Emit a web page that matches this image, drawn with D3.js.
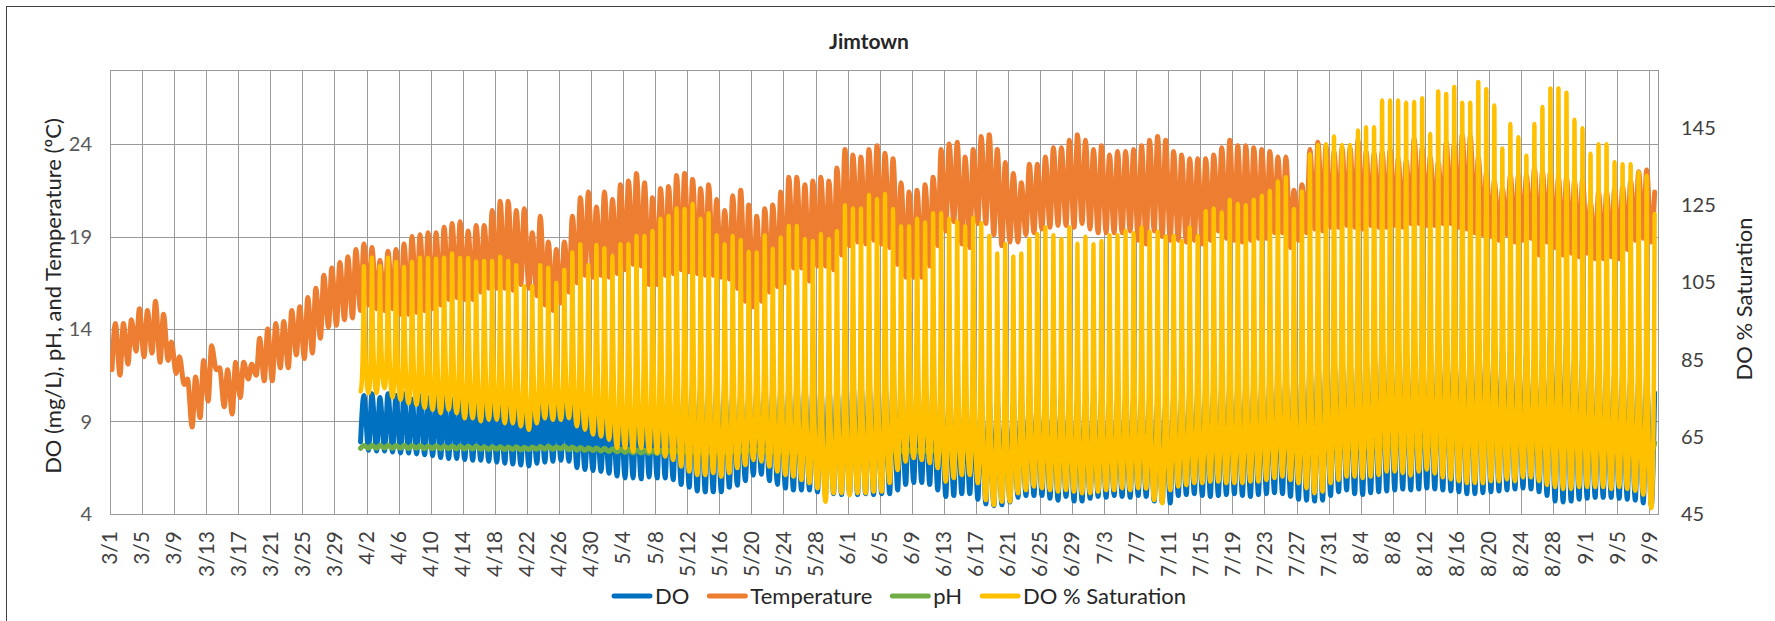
<!DOCTYPE html>
<html>
<head>
<meta charset="utf-8">
<script src="https://cdn.jsdelivr.net/npm/d3@7"></script>
<style>
  body { margin: 0; background: #fff; }
  svg text { font-family: Lato, "Open Sans", sans-serif; }
</style>
</head>
<body>
<div id="chart"></div>
<script>
// day 0 = 3/1, sondes went in on 4/1 (day 31)
var firstDay = Date.UTC(2019, 2, 1);
var lastDay = Date.UTC(2019, 8, 10, 2);
var sondeStart = 31;

// daily low / high, one entry per day from 3/1
var tempLow = [11.8, 11.5, 12.1, 12.8, 12.5, 12.7, 12.2, 12.3, 11.6, 11.0,
  8.7, 9.2, 10.1, 11.8, 9.8, 9.4, 10.3, 11.3, 11.5, 11.2,
  11.2, 11.9, 11.9, 12.6, 12.4, 12.7, 13.5, 14.1, 14.2, 14.5,
  14.6, 15.0, 15.3, 15.1, 15.0, 15.1, 14.8, 14.8, 14.9, 15.0,
  15.1, 15.3, 15.6, 15.7, 15.6, 15.6, 16.0, 16.2, 16.2, 16.2,
  16.1, 16.4, 16.2, 15.8, 15.3, 15.0, 15.4, 16.0, 16.5, 16.9,
  16.8, 16.9, 16.8, 17.0, 17.2, 17.5, 17.4, 16.4, 16.4, 16.9,
  17.0, 17.2, 17.1, 17.0, 16.9, 16.9, 16.8, 16.7, 16.2, 15.5,
  15.2, 15.5, 16.0, 16.3, 16.5, 17.3, 17.3, 16.6, 17.4, 17.4,
  17.2, 18.0, 18.5, 18.7, 18.6, 18.8, 18.6, 18.4, 17.5, 16.8,
  16.8, 16.8, 17.4, 18.5, 19.3, 19.8, 18.6, 18.4, 19.7, 19.7,
  19.1, 18.5, 18.7, 18.7, 19.1, 19.2, 19.4, 19.5, 19.6, 19.6,
  19.5, 19.7, 19.4, 19.2, 19.2, 19.2, 19.2, 19.3, 18.8, 18.6,
  19.3, 19.0, 18.8, 18.8, 18.7, 18.8, 18.6, 18.8, 19.3, 18.9,
  18.8, 18.7, 18.8, 18.9, 18.9, 19.2, 19.2, 18.4, 18.8, 19.2,
  19.4, 19.3, 19.5, 19.5, 19.6, 19.5, 19.4, 19.6, 19.5, 19.5,
  19.6, 19.5, 19.7, 19.7, 19.6, 19.6, 19.7, 19.7, 19.5, 19.4,
  19.2, 19.1, 19.0, 18.8, 19.1, 18.7, 18.8, 18.9, 18.0, 18.7,
  18.4, 18.0, 18.1, 17.9, 18.1, 17.8, 17.8, 17.9, 17.8, 18.3,
  18.8, 18.9, 18.7];
var tempHigh = [14.3, 14.3, 14.5, 15.1, 15.0, 15.5, 14.8, 13.3, 12.5, 11.3,
  11.4, 12.3, 13.1, 11.9, 11.8, 12.2, 12.2, 12.1, 13.5, 14.0,
  14.3, 14.4, 15.0, 15.2, 15.7, 16.2, 16.9, 17.3, 17.6, 17.9,
  18.3, 18.6, 18.4, 17.7, 18.2, 18.3, 18.6, 19.0, 19.1, 19.2,
  19.2, 19.5, 19.7, 19.8, 19.3, 19.6, 19.6, 20.4, 20.9, 20.9,
  20.4, 20.5, 19.2, 20.1, 18.7, 18.3, 18.7, 20.1, 21.1, 21.4,
  20.6, 21.4, 21.0, 21.8, 22.0, 22.4, 21.9, 21.1, 21.6, 21.7,
  22.3, 22.4, 22.1, 21.6, 21.8, 21.0, 20.4, 21.2, 21.5, 20.7,
  20.1, 20.5, 20.7, 21.4, 22.2, 22.2, 21.8, 22.0, 22.2, 22.0,
  22.7, 23.7, 23.4, 23.3, 23.7, 23.9, 23.5, 23.2, 21.9, 21.4,
  21.5, 21.8, 22.2, 23.7, 24.0, 24.1, 23.3, 23.7, 24.4, 24.5,
  23.7, 23.0, 22.4, 21.9, 22.9, 22.9, 23.3, 23.8, 23.8, 24.2,
  24.5, 24.2, 23.7, 23.9, 23.4, 23.6, 23.6, 23.7, 23.9, 24.2,
  24.4, 24.2, 23.6, 23.4, 23.2, 23.2, 23.2, 23.4, 23.8, 24.2,
  23.9, 23.9, 23.8, 23.7, 23.6, 23.3, 23.3, 21.5, 21.8, 23.7,
  24.1, 23.9, 23.6, 23.8, 23.8, 24.2, 23.6, 23.5, 23.6, 23.7,
  23.2, 23.1, 24.3, 23.8, 23.3, 23.0, 24.1, 24.0, 24.5, 24.4,
  23.3, 22.4, 22.0, 21.6, 22.3, 22.3, 22.3, 22.7, 22.5, 22.5,
  22.2, 22.2, 22.0, 22.1, 20.8, 21.4, 21.4, 21.6, 21.7, 22.0,
  22.5, 22.6, 21.4];

// from 4/1 on
var doLow = [7.9,
  7.45, 7.4, 7.4, 7.35, 7.3, 7.3, 7.25, 7.2, 7.15, 7.05, 7.0, 7.0, 6.95, 6.9, 6.9, 6.85, 6.8,
  6.75, 6.7, 6.65, 6.6, 6.75, 6.8, 6.85, 6.9, 6.85, 6.5, 6.4, 6.35, 6.3, 6.2, 6.05, 5.95,
  5.95, 5.9, 6.0, 5.95, 5.95, 5.85, 5.6, 5.45, 5.25, 5.2, 5.2, 5.2, 5.45, 5.55, 5.8, 6.1, 6.15,
  5.8, 5.6, 5.4, 5.3, 5.3, 5.3, 5.2, 5.05, 5.1, 5.05, 5.1, 5.05, 5.1, 5.05, 5.1, 5.1,
  5.3, 5.6, 5.7, 5.7, 5.6, 5.3, 4.95, 5.0, 5.1, 5.1, 4.8, 4.55, 4.45, 4.5, 4.65, 4.9,
  5.0, 5.0, 5.0, 4.85, 4.75, 4.95, 4.7, 4.7, 4.85, 4.95, 4.9, 5.0, 4.95, 4.9, 5.0, 4.95,
  4.7, 4.65, 4.6,
  5.0, 5.05, 5.1, 5.0, 4.95, 5.0, 5.05, 5.1, 5.0, 4.95, 5.05, 5.1, 5.15, 5.1, 4.95,
  4.8, 4.75, 4.7, 4.75, 5.0, 5.2, 5.3, 5.1, 5.05, 5.15, 5.2, 5.25, 5.3, 5.35,
  5.3, 5.35, 5.4, 5.35, 5.3, 5.25, 5.2, 5.1, 5.1, 5.15, 5.2, 5.25, 5.3, 5.35, 5.4, 5.35,
  5.2, 5.0, 4.7, 4.65, 4.7, 4.8, 4.85, 4.9, 4.9, 4.9, 4.85, 4.8, 4.75, 4.6, 4.45];
var doHigh = [10.4,
  10.5, 10.3, 10.5, 10.4, 10.5, 10.2, 10.4, 10.3, 10.4, 10.3, 10.2, 10.2, 10.0, 10.2, 10.0, 10.2,
  10.0, 10.1, 9.9, 10.0, 9.9, 10.1, 10.3, 10.2, 10.4, 10.2, 9.8, 9.6, 9.7, 9.5, 9.6, 9.9,
  10.35, 10.45, 10.5, 10.5, 10.95, 10.8, 10.8, 10.95, 10.9, 10.8, 10.6, 10.7, 10.8, 10.5, 10.45,
  10.35, 10.6, 10.7, 10.7, 10.7, 10.8, 10.9, 10.9, 10.8, 10.7, 10.8, 10.8, 10.95, 11.05, 11.05,
  11.05, 11.05, 10.95,
  11.0, 10.8, 10.7, 10.8, 10.8, 10.9, 10.6, 10.5, 10.35, 10.25, 10.15, 10.15, 10.0, 10.0, 9.8,
  10.0, 10.15, 10.35, 10.35, 10.15, 10.35, 10.35, 10.15, 10.15, 10.0, 10.15, 10.15, 10.0, 10.15,
  10.15, 10.15, 10.15, 10.1,
  10.0, 9.9, 10.2, 10.25, 10.45, 10.55, 10.6, 10.7, 10.8, 10.9, 10.8, 10.9, 11.0, 11.05, 11.25,
  11.45, 11.45, 11.15, 11.5, 11.95, 12.15, 12.15, 12.35, 12.35, 12.25, 12.4, 12.4, 12.6, 13.15,
  13.15, 12.95, 12.85,
  12.85, 12.7, 12.6, 13.35, 13.4, 13.5, 13.05, 12.85, 13.6, 13.6, 13.25, 12.85, 12.85, 12.7,
  12.6, 12.4, 12.35, 13.6, 13.5, 13.25, 12.35, 12.35, 11.8, 11.7, 11.6, 11.5, 11.45, 11.25,
  11.15, 11.25, 10.55];

var phLow = [7.55, 7.56, 7.55, 7.57, 7.55, 7.56, 7.54, 7.55, 7.53, 7.54, 7.52, 7.53, 7.52, 7.51, 7.52,
  7.50, 7.49, 7.50, 7.48, 7.49, 7.47, 7.48, 7.50, 7.50, 7.49, 7.51, 7.47, 7.45, 7.44, 7.43,
  7.40, 7.38, 7.36, 7.33, 7.30, 7.30, 7.28, 7.27, 7.26, 7.25, 7.24, 7.23, 7.22, 7.22, 7.23,
  7.23, 7.24, 7.25, 7.26, 7.26, 7.25, 7.24, 7.23, 7.22, 7.22, 7.21, 7.21, 7.20, 7.20, 7.21,
  7.20, 7.20, 7.21, 7.22, 7.22, 7.23, 7.23, 7.24, 7.25, 7.25,
  7.25, 7.26, 7.25, 7.24, 7.24, 7.25, 7.26, 7.25, 7.24, 7.24, 7.25, 7.26, 7.27, 7.27, 7.26,
  7.26, 7.27, 7.28, 7.27, 7.27, 7.28, 7.28, 7.29, 7.28, 7.28, 7.29, 7.29, 7.30, 7.29, 7.29,
  7.29, 7.30, 7.30, 7.31, 7.30, 7.30, 7.31, 7.31, 7.32, 7.31, 7.31, 7.32, 7.32, 7.33, 7.32,
  7.32, 7.31, 7.32, 7.33, 7.33,
  7.33, 7.34, 7.34, 7.35, 7.35, 7.36, 7.35, 7.36, 7.36, 7.37, 7.37, 7.36, 7.37, 7.37, 7.38,
  7.37, 7.37, 7.38, 7.38, 7.37, 7.36, 7.36, 7.37, 7.37, 7.38, 7.37, 7.36, 7.36, 7.35, 7.35,
  7.36, 7.36, 7.35, 7.35, 7.34, 7.34, 7.35, 7.35, 7.34, 7.34, 7.33, 7.33];
var phHigh = [7.70, 7.72, 7.71, 7.72, 7.70, 7.71, 7.70, 7.70, 7.68, 7.69, 7.67, 7.68, 7.67, 7.66, 7.67,
  7.64, 7.63, 7.64, 7.62, 7.63, 7.61, 7.62, 7.65, 7.66, 7.64, 7.67, 7.62, 7.60, 7.58, 7.57,
  7.55, 7.53, 7.50, 7.48, 7.46, 7.45, 7.44, 7.44, 7.43, 7.43, 7.42, 7.42, 7.41, 7.41, 7.42,
  7.42, 7.43, 7.44, 7.45, 7.45, 7.44, 7.43, 7.43, 7.42, 7.43, 7.42, 7.43, 7.44, 7.44, 7.45,
  7.46, 7.46, 7.47, 7.48, 7.48, 7.48, 7.47, 7.47, 7.47, 7.46,
  7.47, 7.48, 7.48, 7.49, 7.48, 7.49, 7.50, 7.50, 7.51, 7.50, 7.51, 7.52, 7.52, 7.53, 7.52,
  7.53, 7.54, 7.54, 7.55, 7.54, 7.55, 7.56, 7.56, 7.57, 7.56, 7.57, 7.58, 7.58, 7.59, 7.60,
  7.61, 7.62, 7.62, 7.63, 7.64, 7.64, 7.65, 7.66, 7.66, 7.67, 7.68, 7.68, 7.69, 7.70, 7.71,
  7.72, 7.70, 7.73, 7.75, 7.77,
  7.79, 7.81, 7.83, 7.85, 7.86, 7.88, 7.89, 7.90, 7.91, 7.92, 7.93, 7.94, 7.95, 7.95, 7.96,
  7.96, 7.97, 7.97, 7.96, 7.96, 7.95, 7.94, 7.94, 7.93, 7.93, 7.92, 7.92, 7.91, 7.91, 7.90,
  7.90, 7.89, 7.89, 7.88, 7.88, 7.87, 7.87, 7.86, 7.86, 7.85, 7.85, 7.84];

var satLow = [76.8,
  76.3, 76.3, 77.6, 75.2, 74.6, 73.7, 73.3, 72.5, 72.0, 71.1, 72.0, 71.1, 69.8, 69.8, 69.0, 69.4,
  69.4, 68.5, 68.5, 67.7, 66.8, 68.5, 69.8, 69.4, 69.4, 69.8, 67.7, 66.8, 65.6, 65.1, 64.2, 62.1, 62.1,
  61.2, 62.1, 61.2, 60.8, 59.9, 59.0, 57.3, 56.0, 55.1, 55.1, 55.6, 54.7, 55.6, 56.9, 57.7, 59.0,
  58.6, 57.3, 56.0, 55.1, 54.7, 53.8, 53.0, 51.7, 48.2, 50.4, 50.4, 49.9, 50.4, 50.4, 50.8, 50.8,
  53.0, 56.4, 58.6, 59.5, 59.0, 58.2, 56.9, 53.4, 54.3, 55.1, 55.1, 53.0, 48.6, 47.3, 48.2, 48.2,
  50.4, 51.2, 52.1, 51.7, 51.2, 50.8, 51.2, 50.8, 50.4, 50.4, 50.8, 51.2, 51.2, 51.7, 51.2, 51.7, 51.6,
  48.6, 47.8, 51.2, 52.1, 52.5, 53.0, 53.0, 53.4, 53.4, 53.0, 53.0, 53.0, 53.4, 53.4, 53.8, 54.3,
  54.7, 53.8, 53.0, 51.7, 50.4, 50.8, 53.0, 53.8, 54.7, 54.7, 54.3, 54.7, 55.1, 56.0, 56.0, 55.6,
  55.0, 56.0, 56.5, 55.5, 54.5, 54.0, 53.5, 53.0, 53.0, 53.0, 53.5, 53.5, 54.0, 53.5, 54.5, 54.5,
  53.5, 52.5, 52.0, 51.5, 51.5, 52.0, 52.0, 52.0, 52.0, 51.5, 52.0, 51.5, 51.0, 50.0, 46.5];
var satHigh = [109.2,
  111.4, 109.2, 111.4, 110.3, 109.0, 110.3, 111.4, 111.3, 111.1, 111.4, 112.5, 111.3, 111.3, 110.4,
  110.5, 110.5, 111.6, 110.5, 109.4, 104.0, 104.0, 109.4, 108.8, 104.9, 108.2, 112.7, 114.9, 109.4,
  114.7, 113.8, 111.8, 114.9, 114.9,
  117.0, 117.0, 118.3, 121.5, 122.2, 124.1, 124.0, 125.3, 121.5, 122.9, 117.2, 114.9, 117.0, 116.0,
  112.9, 112.7, 117.2, 113.7, 116.6, 119.6, 119.6, 116.2, 115.7, 117.5, 116.2, 118.3, 125.0, 124.1,
  124.1, 127.6, 126.6, 127.9,
  124.0, 119.5, 119.5, 121.5, 120.5, 122.9, 122.9, 121.5, 120.7, 119.5, 121.7, 120.3, 117.0, 112.5,
  114.9, 111.7, 112.5, 116.2, 117.5, 119.2, 117.2, 116.2, 119.2, 115.0, 116.8, 114.9, 115.7, 117.2,
  117.2, 118.3, 117.7, 119.2,
  118.1, 118.1, 116.9, 117.0, 115.7, 119.2, 117.0, 123.5, 124.1, 123.1, 126.4, 125.3, 125.0, 126.4,
  127.4, 128.7, 131.1, 132.2, 124.0, 128.5, 138.2, 140.6, 140.8, 142.8, 140.6, 140.6, 144.3, 145.2,
  145.2, 152.1, 152.1, 152.1, 151.5,
  151.7, 152.7, 143.4, 154.4, 153.8, 155.6, 151.5, 151.5, 156.9, 155.0, 150.8, 139.7, 146.0, 142.6,
  137.8, 146.0, 150.4, 155.2, 155.2, 154.1, 147.1, 144.9, 138.3, 140.8, 140.8, 136.1, 135.6, 135.6,
  133.5, 132.6, 122.7];

var leftTicks = [4, 9, 14, 19, 24];
var rightTicks = [45, 65, 85, 105, 125, 145];
var seriesNames = ["DO", "Temperature", "pH", "DO % Saturation"];
var seriesColors = ["#0070C0", "#ED7D31", "#70AD47", "#FFC000"];

var width = 1775, height = 621;
var plotLeft = 110, plotRight = 1658, plotTop = 70, plotBottom = 514;

var svg = d3.select("#chart").append("svg")
    .attr("width", width)
    .attr("height", height);

// chart border
svg.append("rect")
    .attr("x", 6.5).attr("y", 6.5)
    .attr("width", width).attr("height", height)
    .attr("fill", "none").attr("stroke", "#404040").attr("stroke-width", 1);

var x = d3.scaleUtc().domain([new Date(firstDay), new Date(lastDay)]).range([plotLeft, plotRight]);
var yLeft = d3.scaleLinear().domain([4, 28]).range([plotBottom, plotTop]);
var yRight = d3.scaleLinear().domain([45, 160]).range([plotBottom, plotTop]);

function dayDate(d, hour) {
    return new Date(firstDay + (d * 24 + hour) * 3600000);
}

var dateTicks = d3.range(0, 193, 4).map(function (d) { return dayDate(d, 0); });
var fmt = d3.utcFormat("%-m/%-d");

// gridlines
var grid = svg.append("g").attr("stroke", "#9a9a9a").attr("stroke-width", 1);
grid.selectAll("line.v").data(dateTicks).enter().append("line")
    .attr("x1", function (d) { return Math.round(x(d)) + 0.5; })
    .attr("x2", function (d) { return Math.round(x(d)) + 0.5; })
    .attr("y1", plotTop).attr("y2", plotBottom);
grid.selectAll("line.h").data(leftTicks).enter().append("line")
    .attr("x1", plotLeft).attr("x2", plotRight)
    .attr("y1", function (d) { return Math.round(yLeft(d)) + 0.5; })
    .attr("y2", function (d) { return Math.round(yLeft(d)) + 0.5; });
svg.append("rect")
    .attr("x", plotLeft + 0.5).attr("y", plotTop + 0.5)
    .attr("width", plotRight - plotLeft).attr("height", plotBottom - plotTop)
    .attr("fill", "none").attr("stroke", "#9a9a9a");

svg.append("clipPath").attr("id", "plotClip").append("rect")
    .attr("x", plotLeft).attr("y", plotTop)
    .attr("width", plotRight - plotLeft).attr("height", plotBottom - plotTop);

// DO % saturation: long flat nights, a narrow afternoon peak
function SpikeCurve(context) { this._context = context; }
SpikeCurve.prototype = {
    areaStart: function () {},
    areaEnd: function () {},
    lineStart: function () { this._n = 0; },
    lineEnd: function () {},
    point: function (px, py) {
        px = +px; py = +py;
        if (this._n++ === 0) {
            this._context.moveTo(px, py);
        } else {
            var x0 = this._x, y0 = this._y, dx = px - x0;
            if (py < y0) {
                this._context.bezierCurveTo(x0 + 0.85 * dx, y0, x0 + 0.95 * dx, py, px, py);
            } else {
                this._context.bezierCurveTo(x0 + 0.05 * dx, y0, x0 + 0.15 * dx, py, px, py);
            }
        }
        this._x = px; this._y = py;
    }
};
function curveSpike(context) { return new SpikeCurve(context); }

function dailySeries(lows, highs, startDay) {
    var pts = [];
    lows.forEach(function (lo, i) {
        pts.push({date: dayDate(startDay + i, 6), value: lo});
        pts.push({date: dayDate(startDay + i, 16), value: highs[i]});
    });
    return pts;
}

var series = [
    {data: dailySeries(doLow, doHigh, sondeStart), y: yLeft, curve: d3.curveMonotoneX, w: 5},
    {data: dailySeries(tempLow, tempHigh, 0), y: yLeft, curve: d3.curveMonotoneX, w: 5},
    {data: dailySeries(phLow, phHigh, sondeStart), y: yLeft, curve: d3.curveMonotoneX, w: 5},
    {data: dailySeries(satLow, satHigh, sondeStart), y: yRight, curve: curveSpike, w: 4.5}
];

var lines = svg.append("g").attr("clip-path", "url(#plotClip)");
series.forEach(function (s, i) {
    var line = d3.line()
        .x(function (d) { return x(d.date); })
        .y(function (d) { return s.y(d.value); })
        .curve(s.curve);
    lines.append("path")
        .datum(s.data)
        .attr("d", line)
        .attr("fill", "none")
        .attr("stroke", seriesColors[i])
        .attr("stroke-width", s.w)
        .attr("stroke-linejoin", "round")
        .attr("stroke-linecap", "round");
});

// axes labels
svg.append("g").selectAll("text").data(leftTicks).enter().append("text")
    .attr("x", 92).attr("y", function (d) { return yLeft(d); })
    .attr("dy", "0.35em").attr("text-anchor", "end")
    .attr("font-size", 20).attr("fill", "#595959")
    .text(function (d) { return d; });

svg.append("g").selectAll("text").data(rightTicks).enter().append("text")
    .attr("x", 1681).attr("y", function (d) { return yRight(d); })
    .attr("dy", "0.35em").attr("text-anchor", "start")
    .attr("font-size", 20).attr("fill", "#404040")
    .text(function (d) { return d; });

svg.append("g").selectAll("text").data(dateTicks).enter().append("text")
    .attr("transform", function (d) { return "translate(" + x(d) + "," + 531 + ") rotate(-90)"; })
    .attr("dy", "0.35em").attr("text-anchor", "end")
    .attr("font-size", 21).attr("fill", "#404040")
    .text(function (d) { return fmt(d); });

svg.append("text")
    .attr("transform", "translate(53,296) rotate(-90)")
    .attr("dy", "0.35em").attr("text-anchor", "middle")
    .attr("font-size", 22).attr("fill", "#262626")
    .text("DO (mg/L), pH, and Temperature (ºC)");

svg.append("text")
    .attr("transform", "translate(1744,299) rotate(-90)")
    .attr("dy", "0.35em").attr("text-anchor", "middle")
    .attr("font-size", 22).attr("fill", "#262626")
    .text("DO % Saturation");

svg.append("text")
    .attr("x", 869).attr("y", 42)
    .attr("dy", "0.35em").attr("text-anchor", "middle")
    .attr("font-size", 21).attr("font-weight", "bold").attr("fill", "#262626")
    .text("Jimtown");

// legend
var legend = svg.append("g");
var lx = 0;
seriesNames.forEach(function (name, i) {
    var item = legend.append("g").attr("transform", "translate(" + lx + ",0)");
    item.append("line")
        .attr("x1", 0).attr("x2", 36).attr("y1", 0).attr("y2", 0)
        .attr("stroke", seriesColors[i]).attr("stroke-width", 5)
        .attr("stroke-linecap", "round");
    var t = item.append("text")
        .attr("x", 41).attr("y", 0).attr("dy", "0.35em")
        .attr("font-size", 22).attr("fill", "#262626")
        .text(name);
    lx += 41 + t.node().getComputedTextLength() + 20;
});
lx -= 20;
legend.attr("transform", "translate(" + (900 - lx / 2) + ",596)");
</script>
</body>
</html>
